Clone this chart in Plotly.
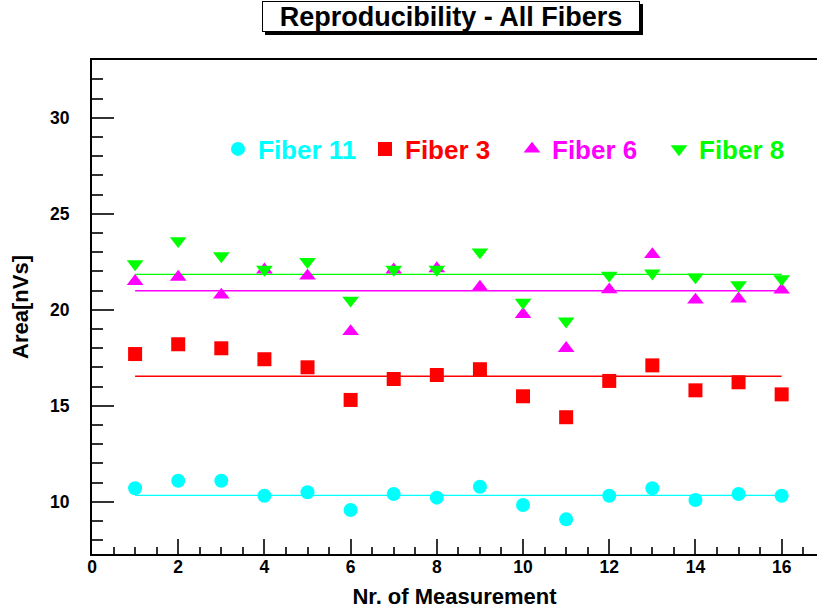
import plotly.graph_objects as go

# ---- data ----
measurement = list(range(1, 17))
fiber11 = [10.70, 11.09, 11.09, 10.31, 10.49, 9.57, 10.40, 10.21, 10.78, 9.83, 9.08, 10.31, 10.70, 10.09, 10.40, 10.31]
fiber3 = [17.69, 18.20, 17.99, 17.42, 17.00, 15.30, 16.39, 16.60, 16.90, 15.49, 14.40, 16.29, 17.10, 15.80, 16.22, 15.59]
fiber6 = [21.48, 21.70, 20.77, 22.08, 21.76, 18.87, 22.08, 22.14, 21.18, 19.76, 17.99, 21.04, 22.88, 20.51, 20.57, 21.03]
fiber8 = [22.38, 23.59, 22.80, 22.10, 22.50, 20.49, 22.10, 22.10, 23.00, 20.38, 19.40, 21.79, 21.90, 21.70, 21.29, 21.60]
fit_levels = [10.33, 16.53, 20.99, 21.84]
series_names = ["Fiber 11", "Fiber 3", "Fiber 6", "Fiber 8"]
series_values = [fiber11, fiber3, fiber6, fiber8]

# ---- styles ----
colors = ["#00ffff", "#ff0000", "#ff00ff", "#00ff00"]
symbols = ["circle", "square", "triangle-up", "triangle-down"]
sizes = [14, 14, 14.5, 14.5]
FONT = "Liberation Sans, Arial, Helvetica, sans-serif"

W, H = 817, 613
L, R, T, B = 92, 0, 60, 59
X_RANGE = [0, 16.82]
Y_RANGE = [7.276, 33.005]


def px_x(p):
    return (p - L) / (W - L - R)


def px_y(p):
    return (H - B - p) / (H - T - B)


fig = go.Figure()

# fit (mean) lines
for vals, lvl, c in zip(series_values, fit_levels, colors):
    fig.add_trace(go.Scatter(
        x=[measurement[0], measurement[-1]], y=[lvl, lvl], mode="lines",
        line=dict(color=c, width=1.4), showlegend=False, hoverinfo="skip"))

# measurement points
for name, vals, c, s, sz in zip(series_names, series_values, colors, symbols, sizes):
    fig.add_trace(go.Scatter(
        x=measurement, y=vals, mode="markers",
        name=f"<span style='color:{c}'>{name}</span>",
        marker=dict(color=c, symbol=s, size=sz, line=dict(width=0))))

tickfont = dict(family=FONT, size=17.5, color="black", weight="bold")

fig.update_layout(
    width=W, height=H,
    margin=dict(l=L, r=R, t=T, b=B, pad=0, autoexpand=False),
    paper_bgcolor="white", plot_bgcolor="white",
    font=dict(family=FONT, color="black"),
    xaxis=dict(
        range=X_RANGE, showgrid=False, zeroline=False,
        showline=True, linecolor="black", linewidth=2, mirror=True,
        ticks="inside", ticklen=15, tickwidth=1.5, tickcolor="#333333",
        tick0=0, dtick=2, tickfont=tickfont, ticklabelstandoff=-4,
        minor=dict(dtick=0.5, tick0=0, ticks="inside", ticklen=7,
                   tickwidth=1.5, tickcolor="#333333", showgrid=False),
        title=dict(text="Nr. of Measurement", standoff=13,
                   font=dict(family=FONT, size=22, color="black", weight="bold")),
    ),
    yaxis=dict(
        range=Y_RANGE, showgrid=False, zeroline=False,
        showline=True, linecolor="black", linewidth=2, mirror=False,
        ticks="inside", ticklen=22, tickwidth=1.5, tickcolor="#333333",
        tick0=0, dtick=5, tickfont=tickfont, ticklabelstandoff=17,
        minor=dict(dtick=1, tick0=0, ticks="inside", ticklen=11,
                   tickwidth=1.5, tickcolor="#333333", showgrid=False),
        title=dict(text="Area[nVs]", standoff=15,
                   font=dict(family=FONT, size=22, color="black", weight="bold")),
    ),
    legend=dict(
        orientation="h", x=px_x(218), y=px_y(149), xanchor="left", yanchor="middle",
        entrywidth=102, entrywidthmode="pixels", bgcolor="rgba(0,0,0,0)",
        font=dict(family=FONT, size=26, weight="bold"), itemsizing="trace",
        traceorder="normal",
    ),
    showlegend=True,
)

# title box with shadow
fig.add_shape(type="rect", xref="paper", yref="paper",
              x0=px_x(265), x1=px_x(643), y0=px_y(35), y1=px_y(4),
              fillcolor="black", line=dict(width=0), layer="above")
fig.add_annotation(
    text="Reproducibility - All Fibers", xref="paper", yref="paper",
    x=px_x(451), y=px_y(16.5), xanchor="center", yanchor="middle",
    showarrow=False, bgcolor="white", bordercolor="black", borderwidth=1,
    borderpad=0, width=376, height=29,
    font=dict(family=FONT, size=27, color="black", weight="bold"))

fig.write_html("out.html")
